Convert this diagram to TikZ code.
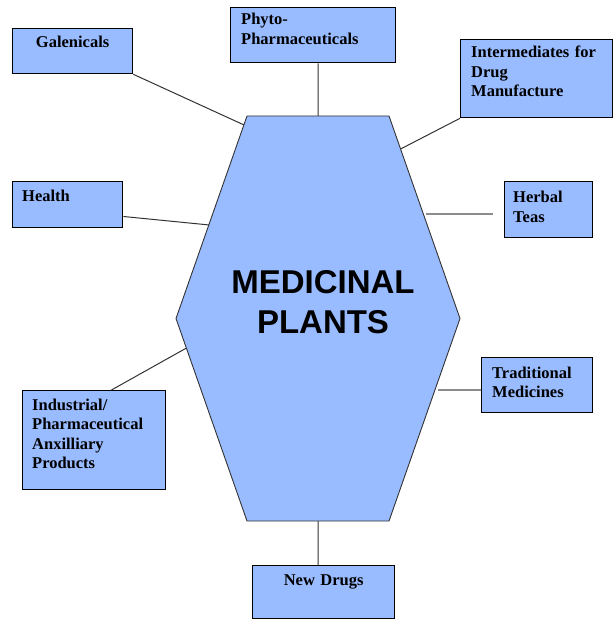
\documentclass[tikz,border=0pt]{standalone}
\usepackage{fontspec}
\setmainfont{Liberation Serif}
\newfontfamily\titlefont{Liberation Sans}
\usetikzlibrary{positioning,calc}
\definecolor{plantblue}{RGB}{153,187,255}

\begin{document}
\begin{tikzpicture}[
            x = 1pt, y = -1pt,
            box/.style = {
                draw = black, line width = 1.3pt,
                fill = plantblue,
                anchor = north west,
                inner sep = 0pt,
            },
            boxtext/.style = {
                font = \fontsize{16.5}{19.5}\selectfont\bfseries,
                inner sep = 0pt,
                text width = 140pt,
                align = left,
                anchor = base west,
            },
            link/.style = {draw = black!80, line width = 1pt},
            greylink/.style = {draw = black!45, line width = 1.3pt},
        ]
        \useasboundingbox (0,0) rectangle (613,620);

        % Zeshoek
        \coordinate (hex_tl) at (247,116);
        \coordinate (hex_tr) at (389,116);
        \coordinate (hex_r) at (460,318.5);
        \coordinate (hex_br) at (389,521);
        \coordinate (hex_bl) at (247,521);
        \coordinate (hex_l) at (176,318.5);
        \coordinate (hex_top) at ($(hex_tl)!0.5!(hex_tr)$);
        \coordinate (hex_bottom) at ($(hex_bl)!0.5!(hex_br)$);
        \coordinate (hex_galenicals) at ($(hex_tl)!0.044!(hex_l)$);
        \coordinate (hex_health) at ($(hex_tl)!0.538!(hex_l)$);
        \coordinate (hex_industrial) at ($(hex_l)!0.146!(hex_bl)$);
        \coordinate (hex_intermediates) at ($(hex_tr)!0.163!(hex_r)$);
        \coordinate (hex_herbal) at ($(hex_tr)!0.484!(hex_r)$);
        \coordinate (hex_traditional) at ($(hex_r)!0.353!(hex_br)$);

        % Vakken
        \node[box, minimum width = 120pt, minimum height = 45pt] (galenicals) at (12,28) {};
        \node[box, minimum width = 165pt, minimum height = 55pt] (phyto) at (230,7) {};
        \node[box, minimum width = 152pt, minimum height = 78pt] (intermediates) at (460,39) {};
        \node[box, minimum width = 110pt, minimum height = 46pt] (health) at (12,181) {};
        \node[box, minimum width = 88pt, minimum height = 56pt] (herbal) at (504,181) {};
        \node[box, minimum width = 111pt, minimum height = 55pt] (traditional) at (481,357) {};
        \node[box, minimum width = 143pt, minimum height = 99pt] (industrial) at (22,390) {};
        \node[box, minimum width = 142pt, minimum height = 53pt] (new_drugs) at (252,565) {};

        % Verbindingen
        \path[link]
            (galenicals.south east) -- (hex_galenicals)
            (hex_top |- phyto.south) -- (hex_top)
            (intermediates.south west) -- (hex_intermediates)
            ($(health.south east)!0.25!(health.north east)$) -- (hex_health)
            ($(industrial.north west)!0.62!(industrial.north east)$) -- (hex_industrial)
            (hex_bottom) -- (hex_bottom |- new_drugs.north);

        \path[greylink]
            (hex_herbal) edge[shorten < = 3pt, shorten > = 11pt] (hex_herbal -| herbal.west)
            (hex_traditional) edge[shorten < = 3pt] (hex_traditional -| traditional.west);

        \draw[fill = plantblue, draw = black!80, line width = 0.9pt]
            (hex_tl) -- (hex_tr) -- (hex_r) -- (hex_br) -- (hex_bl) -- (hex_l) -- cycle;

        % Teksten
        \node[
            font = \fontsize{33}{40}\selectfont\titlefont\bfseries,
            text width = 260pt, align = center,
            anchor = base, inner sep = 0pt,
        ] (title) at (323,293) {MEDICINAL\\PLANTS};

        \node[boxtext, align = center, text width = 120pt, below = 20pt of galenicals.north, anchor = base] (galenicals_text) {Galenicals};
        \node[boxtext, below right = 18pt and 11pt of phyto.north west, anchor = base west] (phyto_text) {Phyto-\\Pharmaceuticals};
        \node[boxtext, below right = 19pt and 11pt of intermediates.north west, anchor = base west] (intermediates_text) {Intermediates for\\Drug\\Manufacture};
        \node[boxtext, below right = 21pt and 10pt of health.north west, anchor = base west] (health_text) {Health};
        \node[boxtext, below right = 22pt and 9pt of herbal.north west, anchor = base west] (herbal_text) {Herbal\\Teas};
        \node[boxtext, below right = 21pt and 11pt of traditional.north west, anchor = base west] (traditional_text) {Traditional\\Medicines};
        \node[boxtext, below right = 20pt and 10pt of industrial.north west, anchor = base west] (industrial_text) {Industrial/\\Pharmaceutical\\Anxilliary\\Products};
        \node[boxtext, align = center, text width = 142pt, below = 20pt of new_drugs.north, anchor = base] (new_drugs_text) {New Drugs};
    \end{tikzpicture}
\end{document}
